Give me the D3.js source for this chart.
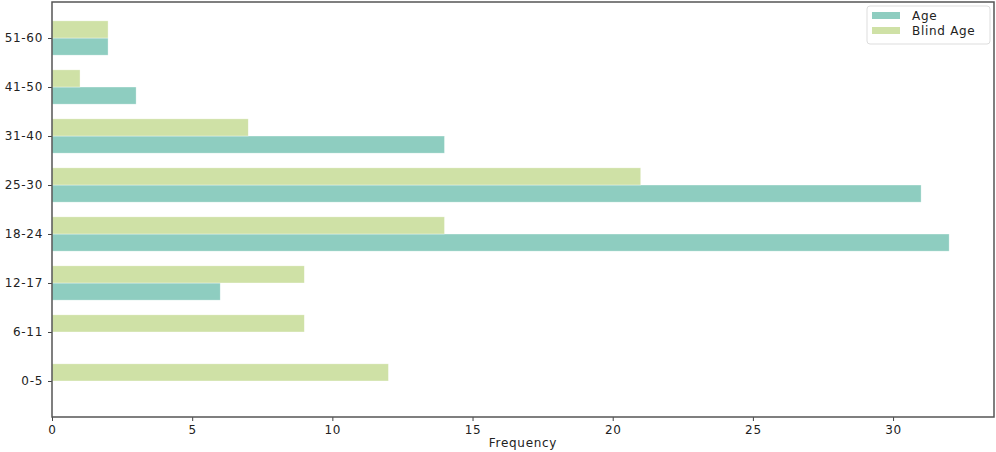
<!DOCTYPE html>
<html>
<head>
<meta charset="utf-8">
<script src="https://cdn.jsdelivr.net/npm/d3@7"></script>
<style>
  body { margin: 0; background: #fff; }
  text { font-family: "DejaVu Sans", sans-serif; fill: #222; letter-spacing: 0.7px; }
</style>
</head>
<body>
<div id="chart"></div>
<script>
const categories = ['0-5', '6-11', '12-17', '18-24', '25-30', '31-40', '41-50', '51-60'];
const ageValues = [0, 0, 6, 32, 31, 14, 3, 2];
const blindAgeValues = [12, 9, 9, 14, 21, 7, 1, 2];
const xTicks = [0, 5, 10, 15, 20, 25, 30];

const series = [
  { name: 'Age', values: ageValues, color: '#8ecdc0', offset: 0 },
  { name: 'Blind Age', values: blindAgeValues, color: '#cfe1a6', offset: -1 }
];

const W = 996, H = 452;
const margin = { top: 2, right: 2, bottom: 35, left: 52 };
const width = W - margin.left - margin.right;
const height = H - margin.top - margin.bottom;
const barH = 0.35;

const svg = d3.select('#chart').append('svg')
  .attr('width', W).attr('height', H);
const g = svg.append('g').attr('transform', `translate(${margin.left},${margin.top})`);

const x = d3.scaleLinear().domain([0, 33.6]).range([0, width]);
const y = d3.scaleLinear().domain([-0.735, categories.length - 1 + 0.735]).range([height, 0]);

series.forEach(function(s) {
  g.selectAll('.bar-' + s.offset)
    .data(s.values)
    .enter()
    .append('rect')
    .attr('x', x(0))
    .attr('y', function(d, i) { return y(i + (s.offset === 0 ? 0 : barH)); })
    .attr('width', function(d) { return x(d) - x(0); })
    .attr('height', y(0) - y(barH))
    .attr('fill', s.color)
    .attr('stroke', d => d > 0 ? '#fff' : 'none')
    .attr('stroke-width', 0.6)
    .attr('stroke-opacity', 0.6);
});

// axes
const xAxis = g.append('g')
  .attr('transform', `translate(0,${height})`)
  .call(d3.axisBottom(x).tickValues(xTicks).tickSize(4).tickPadding(4));
const yAxis = g.append('g')
  .call(d3.axisLeft(y).tickValues(d3.range(categories.length))
    .tickFormat(i => categories[i]).tickSize(4).tickPadding(5));

[xAxis, yAxis].forEach(function(a) {
  a.select('.domain').remove();
  a.selectAll('.tick line').attr('stroke', '#444').attr('stroke-width', 1);
  a.selectAll('.tick text').style('font-size', '12px').attr('fill', '#222');
});

// frame
g.append('rect')
  .attr('x', 0).attr('y', 0)
  .attr('width', width).attr('height', height)
  .attr('fill', 'none').attr('stroke', '#555').attr('stroke-width', 1.5);

g.append('text')
  .attr('x', width / 2).attr('y', height + 30)
  .attr('text-anchor', 'middle')
  .style('font-size', '12px')
  .text('Frequency');

// legend
const lg = svg.append('g').attr('transform', 'translate(867,6)');
lg.append('rect')
  .attr('width', 123).attr('height', 38).attr('rx', 3)
  .attr('fill', '#fff').attr('stroke', '#ddd');
series.forEach(function(s, i) {
  lg.append('rect')
    .attr('x', 5).attr('y', 6 + i * 15)
    .attr('width', 28).attr('height', 7)
    .attr('fill', s.color);
  lg.append('text')
    .attr('x', 45).attr('y', 14 + i * 15)
    .style('font-size', '12px')
    .text(s.name);
});
</script>
</body>
</html>
